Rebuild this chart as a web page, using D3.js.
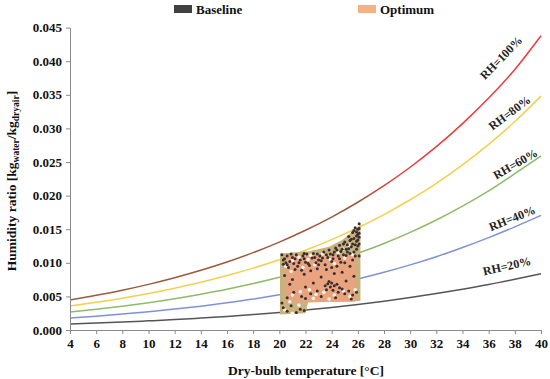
<!DOCTYPE html>
<html>
<head>
<meta charset="utf-8">
<script src="https://cdn.jsdelivr.net/npm/d3@7"></script>
<style>
  html, body { margin: 0; padding: 0; background: #fff; }
  svg { display: block; }
  text { font-family: "Liberation Serif", "Times New Roman", serif; font-weight: bold; }
</style>
</head>
<body>
<svg id="chart" width="550" height="379"></svg>
<script>
// ---------- data ----------
const temps = [4,6,8,10,12,14,16,18,20,22,24,26,28,30,32,34,36,38,40];
const rh100 = [0.00448,0.00516,0.00592,0.00679,0.00777,0.00888,0.01012,0.01151,0.01308,0.01484,0.01681,0.01901,0.02147,0.02422,0.02728,0.03071,0.03452,0.03878,0.04380];
const rh80  = [0.00358,0.00413,0.00474,0.00543,0.00622,0.00710,0.00810,0.00921,0.01046,0.01187,0.01345,0.01521,0.01718,0.01938,0.02182,0.02457,0.02762,0.03102,0.03480];
const rh60  = [0.00269,0.00310,0.00355,0.00407,0.00466,0.00533,0.00607,0.00691,0.00785,0.00890,0.01009,0.01141,0.01288,0.01453,0.01637,0.01843,0.02071,0.02327,0.02590];
const rh40  = [0.00179,0.00206,0.00237,0.00272,0.00311,0.00355,0.00405,0.00460,0.00523,0.00594,0.00672,0.00760,0.00859,0.00969,0.01091,0.01228,0.01375,0.01535,0.01705];
const rh20  = [0.00090,0.00103,0.00118,0.00136,0.00155,0.00178,0.00202,0.00230,0.00262,0.00297,0.00336,0.00380,0.00429,0.00484,0.00543,0.00607,0.00677,0.00755,0.00838];
const rhNames = ["RH=100%","RH=80%","RH=60%","RH=40%","RH=20%"];

const xTicks = [4,6,8,10,12,14,16,18,20,22,24,26,28,30,32,34,36,38,40];
const yTicks = [0,0.005,0.010,0.015,0.020,0.025,0.030,0.035,0.040,0.045];

const legendLabels = ["Baseline","Optimum"];

// baseline envelope (temperature, lower W, upper W)
const envT  = [20.05,22.0,22.2,23.8,24.8,25.7,26.2];
const envLo = [0.0023,0.0025,0.0041,0.0042,0.0042,0.0043,0.0043];
const envHi = [0.0114,0.0117,0.0117,0.0124,0.0134,0.0148,0.0157];

// optimum region
const optT  = [20.5,25.8];
const optLo = [0.0042,0.0042];
const optHi = [0.0111,0.0111];

// baseline points (temperature, humidity ratio)
const baselinePts = [
 [20.2,0.0112],[20.4,0.0106],[20.3,0.0098],[20.6,0.0110],[20.8,0.0102],[20.7,0.0093],[21.0,0.0108],[21.1,0.0099],
 [21.3,0.0112],[21.4,0.0095],[21.6,0.0104],[21.8,0.0110],[21.7,0.0089],[22.0,0.0101],[22.1,0.0113],[22.3,0.0096],
 [22.5,0.0107],[22.6,0.0114],[22.8,0.0100],[22.9,0.0091],[23.1,0.0110],[23.2,0.0103],[23.4,0.0116],[23.5,0.0097],
 [23.7,0.0108],[23.8,0.0119],[24.0,0.0102],[24.1,0.0112],[24.3,0.0122],[24.4,0.0095],[24.6,0.0106],[24.7,0.0117],
 [24.9,0.0128],[25.0,0.0100],[25.1,0.0111],[25.3,0.0121],[25.4,0.0133],[25.6,0.0104],[25.7,0.0116],[25.8,0.0127],
 [25.9,0.0140],[26.0,0.0150],[26.1,0.0158],[25.6,0.0145],[25.3,0.0139],[25.0,0.0131],[24.6,0.0126],[25.9,0.0120],
 [26.0,0.0134],[26.1,0.0110],[25.5,0.0124],[24.8,0.0120],[24.2,0.0116],[23.9,0.0113],[25.2,0.0116],[25.8,0.0152],
 [26.1,0.0144],[25.7,0.0136],[20.5,0.0100],[21.2,0.0090],[21.9,0.0106],[22.4,0.0088],[23.0,0.0097],[23.6,0.0090],
 [24.5,0.0110],[25.4,0.0095],[20.9,0.0113],[22.7,0.0108],[21.5,0.0100],[23.3,0.0107],[24.0,0.0093],[26.0,0.0125],
 [25.9,0.0146],[26.1,0.0138],[25.5,0.0135],[25.2,0.0127],[24.4,0.0119],
 [20.3,0.0104],[20.6,0.0097],[21.2,0.0106],[21.9,0.0114],[22.2,0.0099],[22.9,0.0113],[23.0,0.0104],[23.6,0.0112],
 [24.1,0.0106],[24.7,0.0101],[25.1,0.0120],[25.6,0.0128],[25.9,0.0132],[26.1,0.0151],[25.4,0.0114],[24.9,0.0112],
 [26.0,0.0142],[25.7,0.0148],[26.1,0.0128],[25.8,0.0110],
 [20.4,0.0081],[21.0,0.0075],[21.9,0.0083],[22.6,0.0070],[23.2,0.0079],[24.2,0.0084],[25.1,0.0073],[25.7,0.0080],
 [20.8,0.0068],[23.8,0.0072],[22.0,0.0064],[24.8,0.0086],
 [23.5,0.0066],[23.7,0.0069],[23.9,0.0064],[24.0,0.0070],[24.2,0.0066],[24.4,0.0068],[24.6,0.0063],[23.6,0.0060],
 [24.1,0.0059],[24.5,0.0056],[24.8,0.0061],[25.0,0.0054],[25.3,0.0058],[25.6,0.0052],[25.9,0.0056],[22.9,0.0058],
 [22.4,0.0054],[21.7,0.0050],[21.1,0.0056],[20.6,0.0048],[23.2,0.0050],[24.3,0.0048],[25.5,0.0046],[22.0,0.0047],
 [20.3,0.0033],[20.6,0.0028],[20.9,0.0036],[21.3,0.0026],[21.6,0.0031],[20.2,0.0040],[21.9,0.0029]
];

// uncovered gaps inside the cloud
const gapPts = [
 [20.5,0.0095],[21.0,0.0103],[21.5,0.0108],[22.2,0.0105],[22.7,0.0097],[23.3,0.0113],[23.9,0.0105],[24.5,0.0115],
 [25.0,0.0107],[25.6,0.0112],[20.9,0.0087],[21.8,0.0093],[22.4,0.0111],[24.2,0.0099],[25.3,0.0126],[24.9,0.0120],
 [21.0,0.0052],[21.6,0.0057],[22.3,0.0060],[22.8,0.0053],[23.4,0.0056],[24.2,0.0052],[24.9,0.0058],[25.4,0.0050],
 [25.8,0.0060],[20.4,0.0030],[21.0,0.0025],[21.5,0.0037],[20.8,0.0042],[22.6,0.0047],[23.8,0.0046]
];

// ---------- drawing ----------
const svg = d3.select("#chart");
const x = d3.scaleLinear().domain([4,40]).range([70,541]);
const y = d3.scaleLinear().domain([0,0.045]).range([330,27.6]);

const defs = svg.append("defs");
const grad = defs.append("linearGradient").attr("id","satGrad")
  .attr("gradientUnits","userSpaceOnUse")
  .attr("x1", x(4)).attr("x2", x(40)).attr("y1",0).attr("y2",0);
grad.append("stop").attr("offset", (26.5-4)/36).attr("stop-color","#9a5a3c");
grad.append("stop").attr("offset", (28.5-4)/36).attr("stop-color","#e83a3e");
grad.append("stop").attr("offset", 1).attr("stop-color","#ec3a3f");

const series = [rh100, rh80, rh60, rh40, rh20];
const colors = ["url(#satGrad)","#f2d04e","#8dbb68","#7f92d8","#555555"];

const line = d3.line().x((d,i)=>x(temps[i])).y(d=>y(d)).curve(d3.curveMonotoneX);

svg.append("g").selectAll("path").data(series).join("path")
  .attr("d", d=>line(d))
  .attr("fill","none")
  .attr("stroke",(d,i)=>colors[i])
  .attr("stroke-width",1.5);

// baseline envelope
const envArea = d3.area()
  .x((d,i)=>x(envT[i])).y0((d,i)=>y(envLo[i])).y1((d,i)=>y(envHi[i]));
svg.append("path").attr("d", envArea(envT)).attr("fill","#c9b27e");

// optimum region
const optArea = d3.area()
  .x((d,i)=>x(optT[i])).y0((d,i)=>y(optLo[i])).y1((d,i)=>y(optHi[i]));
svg.append("path").attr("d", optArea(optT)).attr("fill","#e9a47f");

// gaps
svg.append("g").selectAll("circle").data(gapPts).join("circle")
  .attr("cx",d=>x(d[0])).attr("cy",d=>y(d[1])).attr("r",1.8)
  .attr("fill","#f8f2ea");

// baseline points
svg.append("g").selectAll("circle").data(baselinePts).join("circle")
  .attr("cx",d=>x(d[0])).attr("cy",d=>y(d[1])).attr("r",1.5)
  .attr("fill","#3b2f2f");

// axes
const gx = svg.append("g").attr("transform","translate(0,330)")
  .call(d3.axisBottom(x).tickValues(xTicks).tickFormat(d3.format("d")).tickSizeInner(4).tickSizeOuter(0).tickPadding(5));
const gy = svg.append("g").attr("transform","translate(70,0)")
  .call(d3.axisLeft(y).tickValues(yTicks).tickFormat(d3.format(".3f")).tickSizeInner(4).tickSizeOuter(0).tickPadding(4));
[gx, gy].forEach(g=>{
  g.select(".domain").attr("stroke","#8a8a8a");
  g.selectAll(".tick line").attr("stroke","#8a8a8a");
  g.selectAll(".tick text").attr("fill","#111").style("font-size","13px")
    .style("font-family",'"Liberation Serif", "Times New Roman", serif').style("font-weight","bold");
});

// RH labels
const labelT = [36.95, 37.6, 38.05, 37.8, 37.4];
const labelW = [0.0405, 0.0323, 0.0247, 0.0166, 0.0095];
const labelA = [-46, -37, -30, -22, -13];
svg.append("g").selectAll("text").data(rhNames).join("text")
  .attr("transform",(d,i)=>`translate(${x(labelT[i])},${y(labelW[i])}) rotate(${labelA[i]})`)
  .attr("text-anchor","middle").attr("dominant-baseline","central")
  .style("font-size","12px").attr("fill","#222")
  .text(d=>d);

// axis titles
svg.append("text").attr("x",306).attr("y",375).attr("text-anchor","middle")
  .style("font-size","13.5px").attr("fill","#111").text("Dry-bulb temperature [°C]");

const yt = svg.append("text").attr("transform","translate(16,181) rotate(-90)")
  .attr("text-anchor","middle").style("font-size","13.5px").attr("fill","#111");
yt.append("tspan").text("Humidity ratio [kg");
yt.append("tspan").attr("dy",3).style("font-size","9.5px").text("water");
yt.append("tspan").attr("dy",-3).text("/kg");
yt.append("tspan").attr("dy",3).style("font-size","9.5px").text("dryair");
yt.append("tspan").attr("dy",-3).text("]");

// legend
const legColors = ["#404040","#f4b183"];
const legX = [174, 358];
const leg = svg.append("g").selectAll("g").data(legendLabels).join("g")
  .attr("transform",(d,i)=>`translate(${legX[i]},0)`);
leg.append("rect").attr("x",0).attr("y",5).attr("width",18).attr("height",8)
  .attr("fill",(d,i)=>legColors[i]);
leg.append("text").attr("x",22).attr("y",14).style("font-size","13px").attr("fill","#111").text(d=>d);
</script>
</body>
</html>
